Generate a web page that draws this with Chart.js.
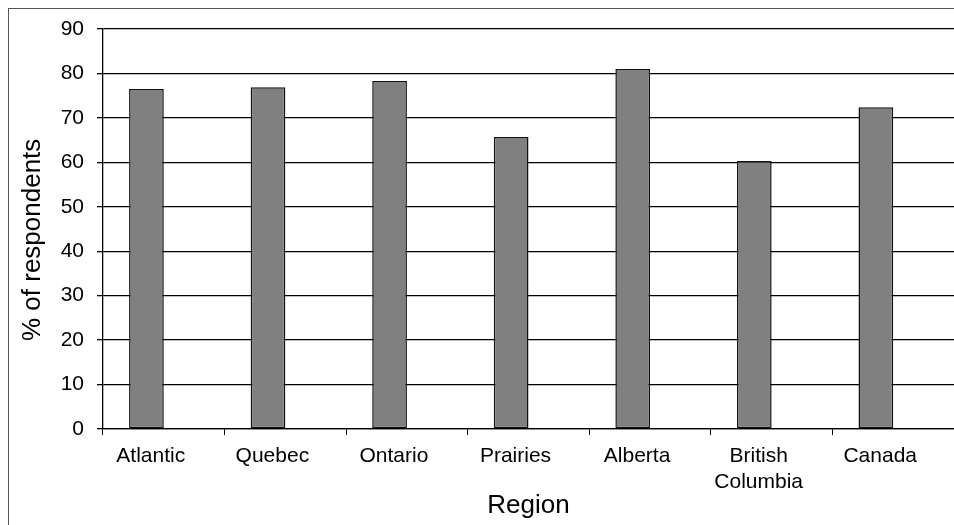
<!DOCTYPE html>
<html>
<head>
<meta charset="utf-8">
<script src="https://cdn.jsdelivr.net/npm/chart.js@4/dist/chart.umd.min.js"></script>
<style>
  html, body { margin: 0; padding: 0; background: #fff; overflow: hidden; }
  #marco {
    position: absolute; left: 8px; top: 8px; width: 1100px; height: 700px;
    border: 1px solid #555; box-sizing: border-box;
  }
  #caja { position: absolute; left: 0; top: 0; width: 954px; height: 525px; }
</style>
</head>
<body>
<div id="marco"></div>
<div id="caja"><canvas id="grafico" width="954" height="525"></canvas></div>
<script>
const regiones = ['Atlantic', 'Quebec', 'Ontario', 'Prairies', 'Alberta', ['British', 'Columbia'], 'Canada'];
const porcentajes = [76.5, 76.9, 78.3, 65.7, 81.0, 60.3, 72.4];
const vacio = []; // serie vacía: Excel reservaba un hueco a la derecha de cada barra
const marcasY = [0, 10, 20, 30, 40, 50, 60, 70, 80, 90];

Chart.defaults.font.family = "'Liberation Sans', Arial, sans-serif";
Chart.defaults.color = '#000';

const ctx = document.getElementById('grafico').getContext('2d');

new Chart(ctx, {
    type: 'bar',
    data: {
        labels: regiones,
        datasets: [{
            label: '% of respondents',
            data: porcentajes,
            backgroundColor: '#808080',
            borderColor: '#111',
            borderWidth: 1.5,
            borderSkipped: false,
            categoryPercentage: 0.571,
            barPercentage: 1
        },
        {
            label: '',
            data: vacio,
            categoryPercentage: 0.571,
            barPercentage: 1
        }]
    },
    options: {
        responsive: false,
        animation: false,
        layout: { padding: { top: 29, right: 0, bottom: 0, left: 0 } },
        plugins: {
            legend: { display: false },
            tooltip: { enabled: false }
        },
        scales: {
            x: {
                offset: true,
                grid: { drawOnChartArea: false, drawTicks: true, tickLength: 6, color: '#000', offset: true },
                border: { color: '#000', width: 1.3 },
                ticks: { font: { size: 21, lineHeight: 1.25 }, padding: 8, labelOffset: -13, maxRotation: 0, autoSkip: false },
                title: { display: true, text: 'Region', font: { size: 26 }, padding: { top: 0, bottom: 4 } },
                afterFit: (escala) => { escala.height = 96; }
            },
            y: {
                min: 0,
                max: 90,
                afterBuildTicks: (escala) => { escala.ticks = marcasY.map(v => ({ value: v })); },
                grid: { color: '#000', lineWidth: 1.3, tickLength: 6 },
                border: { color: '#000', width: 1.3 },
                ticks: { font: { size: 21 }, padding: 13 },
                title: { display: true, text: '% of respondents   ', font: { size: 26 }, padding: { top: 17, bottom: 0 } },
                afterFit: (escala) => { escala.width = 103; }
            }
        }
    }
});
</script>
</body>
</html>
